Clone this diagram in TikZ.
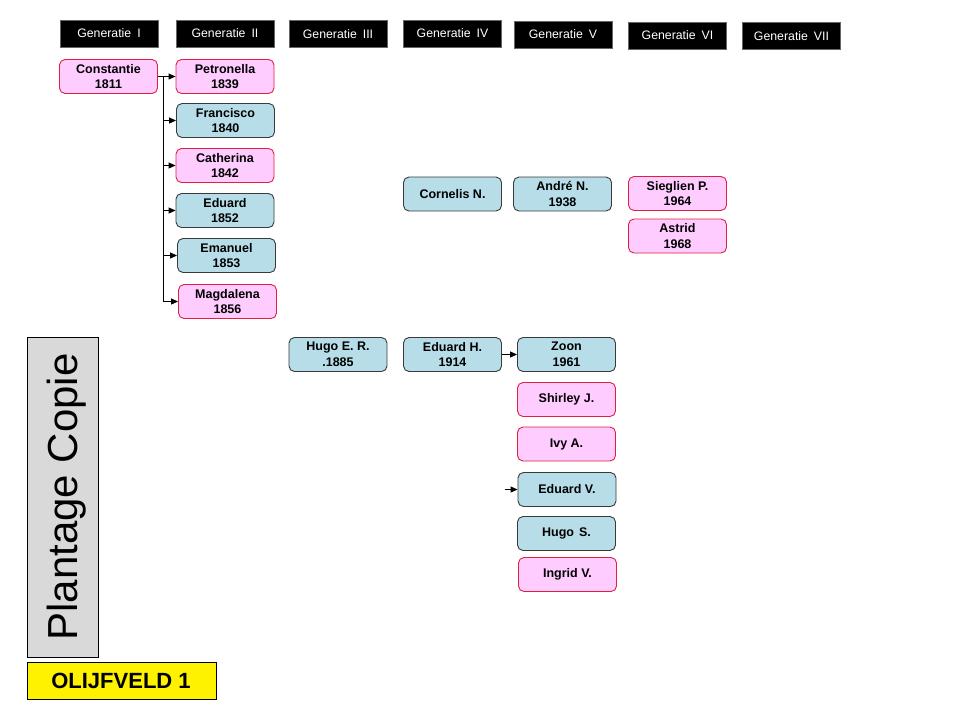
\documentclass[tikz,border=0pt]{standalone}
\usepackage{fontspec}
\setmainfont{Liberation Sans}
\usetikzlibrary{arrows.meta}
\definecolor{pinkfill}{HTML}{FFCCFF}
\definecolor{pinkdraw}{HTML}{E0203F}
\definecolor{bluefill}{HTML}{B7DEE8}
\definecolor{bluedraw}{HTML}{3A3A3A}
\definecolor{grayfill}{HTML}{D9D9D9}
\begin{document}
\begin{tikzpicture}[x=1pt,y=-1pt,
  genbox/.style={fill=black,draw=black!60,minimum width=98pt,minimum height=27pt,inner sep=0pt,
    text=white,font=\fontsize{12.3}{14}\selectfont},
  person/.style={rounded corners=5.5pt,minimum width=98pt,minimum height=34pt,inner sep=0pt,
    line width=0.9pt,align=center,font=\fontsize{12.5}{15.5}\selectfont\bfseries},
  female/.style={person,fill=pinkfill,draw=pinkdraw},
  male/.style={person,fill=bluefill,draw=bluedraw},
  arr/.style={line width=0.9pt,-{Triangle[length=7pt,width=6pt]}}]
\useasboundingbox (0,0) rectangle (960,720);
\fill[white] (0,0) rectangle (960,720);
% headers
\node[genbox] (g1) at (109,33.5) {Generatie\hspace{6pt}I};
\node[genbox] (g2) at (225,33.5) {Generatie\hspace{6pt}II};
\node[genbox] (g3) at (338,34) {Generatie\hspace{6pt}III};
\node[genbox] (g4) at (452.5,33.5) {Generatie\hspace{6pt}IV};
\node[genbox] (g5) at (563,34.5) {Generatie\hspace{6pt}V};
\node[genbox] (g6) at (677.5,35.5) {Generatie\hspace{6pt}VI};
\node[genbox] (g7) at (791.5,36) {Generatie\hspace{6pt}VII};
% first family
\node[female] (constantie) at (108.5,76.5) {Constantie\\1811};
\node[female] (petronella) at (225,76.5) {Petronella\\1839};
\node[male] (francisco) at (225.5,120.5) {Francisco\\1840};
\node[female] (catherina) at (225,165.5) {Catherina\\1842};
\node[male] (eduard) at (225,210.5) {Eduard\\1852};
\node[male] (emanuel) at (226.5,255.5) {Emanuel\\1853};
\node[female] (magdalena) at (227.5,301.5) {Magdalena\\1856};
\coordinate (trunk) at (163,76.5);
\draw[arr] (constantie.east) -- (petronella.west);
\foreach \n in {francisco,catherina,eduard,emanuel,magdalena}
  \draw[arr] (trunk) |- (\n.west);
% second group
\node[male] (cornelis) at (452.5,194) {Cornelis N.};
\node[male] (andre) at (562.5,194) {André N.\\1938};
\node[female] (sieglien) at (677.5,193.5) {Sieglien P.\\1964};
\node[female] (astrid) at (677.5,236) {Astrid\\1968};
% third group
\node[male] (hugoer) at (338,354.5) {Hugo E. R.\\.1885};
\node[male] (eduardh) at (452.5,354.5) {Eduard H.\\1914};
\node[male] (zoon) at (566.5,354.5) {Zoon\\1961};
\node[female] (shirley) at (566.5,399.5) {Shirley J.};
\node[female] (ivy) at (566.5,444) {Ivy A.};
\node[male] (eduardv) at (567,489.5) {Eduard V.};
\node[male] (hugos) at (566.5,533.5) {Hugo\hspace{5pt}S.};
\node[female] (ingrid) at (567.5,574.5) {Ingrid V.};
\draw[arr] (eduardh.east) -- (zoon.west);
\coordinate (evin) at (505,489.5);
\draw[arr] (evin) -- (eduardv.west);
% side labels
\draw[fill=grayfill,draw=black,line width=0.9pt] (27,337) rectangle (98,657);
\node[rotate=90,inner sep=0pt,font=\fontsize{42}{48}\selectfont] (plantage) at (66.5,497) {Plantage Copie};
\draw[fill=yellow,draw=black,line width=0.9pt] (27,662) rectangle (216,699);
\node[inner sep=0pt,font=\fontsize{22}{26}\selectfont\bfseries] (olijf) at (121,680.5) {OLIJFVELD 1};
\end{tikzpicture}
\end{document}
